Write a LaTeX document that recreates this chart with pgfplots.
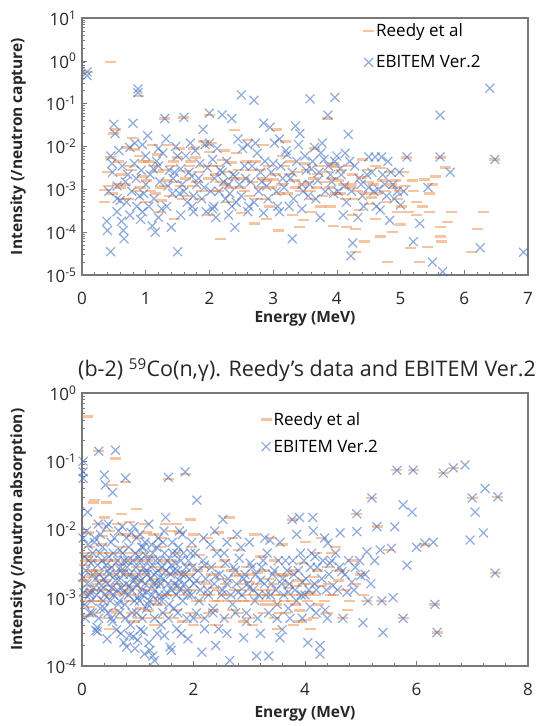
\documentclass[border=0pt]{standalone}
\usepackage{pgfplots}
\pgfplotsset{compat=1.18}
\usepackage{fontspec}
\setmainfont{Open Sans}
\definecolor{reedy}{RGB}{237,125,49}
\definecolor{ebi}{RGB}{68,114,196}
\definecolor{axgray}{RGB}{120,120,120}
\pgfplotsset{
 mybase/.style={
  scale only axis,
  /pgf/number format/assume math mode=true,
  axis line style={axgray, line width=1.2pt},
  tick style={axgray, line width=0.6pt}, tick align=inside, tick pos=left,
  major tick length=5pt, minor tick length=3pt,
  ticklabel style={font=\fontsize{17}{17}\selectfont, text=black!85},
  yticklabel style={xshift=-2pt},
  xticklabel style={yshift=-14pt},
  label style={font=\bfseries\fontsize{15.5}{15.5}\selectfont, text=black!85},
  legend style={draw=none, fill=none, font=\fontsize{17}{20}\selectfont, row sep=13pt, inner sep=0pt},
  legend cell align=left,
 },
 reedymark/.style={only marks, mark=-, mark size=5.5pt, mark options={line width=2.4pt, reedy, opacity=0.45}},
 ebimark/.style={only marks, mark=x, mark size=6.3pt, mark options={line width=1.2pt, ebi, opacity=0.6}},
}
\begin{document}
\begin{tikzpicture}[x=1pt,y=1pt]
\useasboundingbox (0,0) rectangle (545,726);
% ---------------- top panel ----------------
\begin{axis}[mybase, ymode=log, at={(82pt,451pt)}, anchor=south west, width=446pt, height=257pt,
  xmin=0, xmax=7, ymin=1e-5, ymax=10,
  xtick={0,1,...,7}, minor x tick num=4,
  ytick={1e-5,1e-4,1e-3,1e-2,1e-1,1,10},
  yticklabels={10\textsuperscript{-5},10\textsuperscript{-4},10\textsuperscript{-3},10\textsuperscript{-2},10\textsuperscript{-1},10\textsuperscript{0},10\textsuperscript{1}},
  xlabel={Energy (MeV)}, ylabel={Intensity (/neutron capture)},
  xlabel style={at={(axis description cs:0.5,-0.17)}, anchor=center},
  ylabel style={at={(axis description cs:-0.143,0.5)}, anchor=center},
  legend style={at={(0.63,0.985)}, anchor=north west}]
\addplot[reedymark] coordinates {
(0.08,0.55)(0.45,0.95)(0.35,9.5e-4)(0.35,5e-4)(0.45,0.0055)(0.5,0.02)(0.52,0.025)(0.55,0.0013)(0.6,0.0011)(0.65,6e-4)
(0.7,0.0095)(0.75,0.0035)(0.8,0.016)(0.85,0.0009)(0.88,0.15)(0.9,0.006)(0.95,0.002)(1.0,5e-4)(1.05,0.0045)(1.1,0.011)
(1.15,0.0008)(1.2,0.0025)(1.25,5.5e-4)(1.3,0.0012)(1.3,0.045)(1.35,0.011)(1.4,0.0035)(1.45,0.0002)(1.5,0.0055)(1.55,0.0012)
(1.6,0.048)(1.62,0.0027)(1.65,7e-4)(1.7,0.0045)(1.75,0.009)(1.8,0.0015)(1.85,0.0006)(1.9,0.013)(1.95,0.011)(2.0,0.0075)
(2.0,0.055)(2.05,0.0035)(2.1,0.0022)(2.15,0.0009)(2.17,7e-5)(2.2,0.0048)(2.25,0.0013)(2.3,0.0005)(2.35,0.0042)(2.4,0.024)
(2.45,0.0028)(2.5,2.8e-4)(2.55,0.0009)(2.6,0.014)(2.65,0.0028)(2.7,1.6e-4)(2.75,0.0006)(2.8,0.0028)(2.85,0.011)(2.9,0.0016)
(2.95,0.0004)(3.0,0.0017)(3.05,0.025)(3.08,1.1e-4)(3.1,0.0008)(3.15,0.006)(3.2,0.013)(3.25,0.0023)(3.31,2.5e-4)(3.35,0.0011)
(3.42,1.3e-4)(3.47,1.9e-4)(3.5,0.004)(3.55,0.0015)(3.6,6e-4)(3.65,0.009)(3.7,0.0023)(3.75,0.0004)(3.8,0.0015)(3.86,0.045)
(3.9,0.0035)(3.94,1.4e-4)(3.95,0.004)(4.0,0.0033)(4.05,8e-4)(4.1,0.0013)(4.15,1.3e-4)(4.2,0.0011)(4.25,0.0022)(4.3,1.2e-4)
(4.3,3.4e-5)(4.36,3.3e-4)(4.4,0.005)(4.43,6e-5)(4.5,0.0015)(4.55,6.5e-4)(4.6,0.0035)(4.68,0.0031)(4.68,8e-5)(4.75,0.0009)
(4.8,2e-5)(4.83,0.0025)(4.88,1e-4)(4.9,0.0011)(4.95,6e-4)(5.0,1.5e-4)(5.05,0.0025)(5.1,0.0055)(5.15,4.3e-5)(5.2,0.0009)
(5.3,2e-5)(5.38,0.0017)(5.42,4.5e-5)(5.5,0.0013)(5.55,0.002)(5.62,1.3e-4)(5.62,8e-5)(5.65,6e-5)(5.62,0.0055)(5.7,0.0032)
(5.73,1.7e-4)(5.8,3e-4)(6.12,3.4e-5)(6.2,1.2e-4)(6.3,3e-4)(6.48,0.005)
};
\addlegendentry{Reedy et al}
\addplot[ebimark] coordinates {
(0.08,0.55)(0.08,0.45)(0.39,1.8e-4)(0.40,1.1e-4)(0.45,3.5e-5)(0.45,0.006)(0.47,0.004)(0.5,0.033)(0.52,0.02)(0.55,0.0012)
(0.6,5.5e-4)(0.62,1.8e-4)(0.65,1.1e-4)(0.66,7e-5)(0.7,5e-4)(0.75,0.0095)(0.8,0.035)(0.82,0.004)(0.85,0.0018)(0.88,0.22)
(0.88,0.18)(0.9,7e-4)(0.92,2e-4)(0.95,0.011)(1.0,0.006)(1.0,0.0013)(1.05,4e-4)(1.1,1.4e-4)(1.12,0.003)(1.15,1e-4)
(1.2,0.0035)(1.2,0.009)(1.25,3.5e-4)(1.3,0.045)(1.32,0.015)(1.35,0.0012)(1.4,1.3e-4)(1.42,0.0008)(1.45,0.0025)(1.5,3.5e-5)
(1.5,0.006)(1.55,0.003)(1.6,0.048)(1.6,0.0009)(1.65,0.0005)(1.7,0.012)(1.72,0.002)(1.75,0.0007)(1.8,0.0013)(1.85,0.004)
(1.9,0.025)(1.92,0.0011)(1.95,0.0003)(2.0,0.012)(2.0,0.06)(2.05,0.005)(2.08,0.0018)(2.1,2.2e-4)(2.15,0.0009)(2.2,0.055)
(2.2,0.0025)(2.25,0.0006)(2.3,0.0013)(2.35,0.045)(2.35,0.0004)(2.4,0.002)(2.4,1.3e-4)(2.45,0.015)(2.5,0.16)(2.5,0.0007)
(2.55,0.0035)(2.6,0.011)(2.65,0.0015)(2.7,0.12)(2.7,0.0005)(2.75,0.007)(2.8,0.0025)(2.85,0.035)(2.9,0.0012)(2.95,0.028)
(3.0,0.004)(3.05,0.0009)(3.1,0.015)(3.15,0.0018)(3.2,0.008)(3.25,0.0004)(3.3,7e-5)(3.3,0.0025)(3.35,0.03)(3.4,0.011)
(3.45,0.0013)(3.5,0.006)(3.55,0.0007)(3.58,0.13)(3.6,0.003)(3.65,0.0095)(3.7,0.0016)(3.74,2.2e-4)(3.75,0.0071)(3.8,0.005)
(3.86,0.054)(3.9,0.0022)(3.95,0.0008)(3.97,0.14)(4.0,0.006)(4.05,0.003)(4.1,2.5e-4)(4.12,0.0012)(4.15,0.0005)(4.18,0.019)
(4.2,0.0045)(4.22,2.8e-5)(4.25,5.6e-5)(4.33,2.2e-4)(4.35,0.0018)(4.4,0.0007)(4.5,0.0057)(4.5,0.0011)(4.55,0.0025)(4.6,0.0057)
(4.65,0.001)(4.68,3.3e-4)(4.7,0.0057)(4.75,0.0013)(4.8,0.0045)(4.83,1.9e-4)(4.85,0.0025)(4.9,0.0006)(4.95,0.0009)(5.0,4.3e-4)
(5.1,0.0057)(5.2,6e-5)(5.3,1.6e-4)(5.43,0.0011)(5.5,2e-5)(5.62,0.054)(5.62,0.0057)(5.66,1.2e-5)(5.78,0.0025)(6.25,4.3e-5)
(6.4,0.23)(6.48,0.005)(6.93,3.4e-5)
};
\addlegendentry{EBITEM Ver.2}
\addplot[reedymark, forget plot] coordinates {
(0.4,0.0025)(0.42,0.0012)(0.48,0.0008)(0.58,0.0045)(0.62,0.0022)(0.68,0.0013)(0.73,0.0006)(0.78,0.0028)(0.83,0.0085)(0.92,0.0011)
(0.97,0.0045)(1.02,0.0016)(1.08,0.0009)(1.13,0.0035)(1.18,0.0065)(1.23,0.0011)(1.28,0.0028)(1.33,0.0016)(1.38,0.0007)(1.43,0.0045)
(1.48,0.0015)(1.53,0.009)(1.58,0.0006)(1.63,0.0018)(1.68,0.0035)(1.73,0.0012)(1.78,0.0055)(1.83,0.0025)(1.88,0.0009)(1.93,0.0035)
(1.98,0.0018)(2.03,0.012)(2.08,0.0009)(2.13,0.0035)(2.18,0.0015)(2.23,0.008)(2.28,0.0025)(2.33,0.0011)(2.38,0.0018)(2.43,0.007)
(2.48,0.0011)(2.53,0.0018)(2.58,0.0045)(2.63,0.0007)(2.68,0.0015)(2.73,0.0045)(2.78,0.0011)(2.83,0.0018)(2.88,0.0006)(2.93,0.0035)
(2.98,0.0011)(3.03,0.0022)(3.13,0.0013)(3.18,0.0035)(3.23,0.0008)(3.28,0.0045)(3.33,0.0016)(3.38,0.0025)(3.43,0.0009)(3.48,0.0013)
(3.53,0.0028)(3.58,0.0009)(3.63,0.0018)(3.68,0.0011)(3.73,0.0035)(3.78,0.0007)(3.83,0.0025)(3.88,0.0011)(3.93,0.0018)(3.98,0.0008)
(4.03,0.0016)(4.08,0.0028)(4.13,0.0006)(4.18,0.0035)(4.23,0.0013)(4.28,0.0006)(4.33,0.0009)(4.38,0.0019)(4.45,0.0008)(4.48,0.0028)
(4.52,0.00045)(4.58,0.0013)(4.63,0.0008)(4.72,0.0016)(4.78,0.0005)(4.85,0.0013)(4.92,0.0016)(4.98,0.0009)(5.02,0.0004)(5.08,0.0012)
(5.13,0.0003)(5.18,0.0016)(5.25,0.0005)(5.35,0.0004)(5.45,0.0008)
(3.6,3e-4)(3.9,4e-4)(4.25,2.5e-4)(4.6,2e-4)(4.95,3e-4)(5.25,2.5e-4)(5.45,3e-4)(1.2,3e-4)(2.0,2.5e-4)(2.9,2e-4)
};
\addplot[ebimark, forget plot] coordinates {
(0.42,0.0009)(0.48,0.0025)(0.55,0.0006)(0.58,0.008)(0.63,0.0035)(0.68,0.0015)(0.72,0.0022)(0.78,0.0009)(0.83,0.012)(0.86,0.0004)
(0.93,0.0028)(0.97,0.0008)(1.03,0.018)(1.07,0.0022)(1.13,0.0006)(1.17,0.0045)(1.22,0.0015)(1.27,0.007)(1.33,0.0004)(1.37,0.0028)
(1.43,0.0018)(1.47,0.01)(1.53,0.0008)(1.57,0.0013)(1.63,0.006)(1.68,0.0025)(1.73,0.0004)(1.78,0.008)(1.83,0.0018)(1.88,0.0006)
(1.93,0.011)(1.97,0.0032)(2.02,0.0009)(2.07,0.0004)(2.12,0.009)(2.17,0.0028)(2.22,0.0015)(2.27,0.0045)(2.32,0.0008)(2.37,0.0022)
(2.42,0.0005)(2.47,0.0013)(2.52,0.009)(2.57,0.0018)(2.62,0.0004)(2.67,0.0035)(2.72,0.012)(2.77,0.0009)(2.82,0.0015)(2.87,0.0045)
(2.92,0.0006)(2.97,0.0025)(3.02,0.012)(3.07,0.0004)(3.12,0.0035)(3.17,0.0011)(3.22,0.0065)(3.27,0.0018)(3.32,0.0006)(3.37,0.0045)
(3.42,0.02)(3.47,0.0009)(3.52,0.0028)(3.57,0.0013)(3.62,0.0045)(3.67,0.0006)(3.72,0.0025)(3.77,0.012)(3.82,0.0009)(3.87,0.0035)
(3.92,0.0015)(3.97,0.0045)(4.02,0.0009)(4.07,0.0022)(4.13,0.007)(4.23,0.0009)(4.28,0.0035)(4.38,0.0013)(4.42,0.0004)(4.47,0.0022)
(4.58,0.0009)(4.62,0.0004)(4.72,0.0022)(4.78,0.0007)(4.88,0.0013)(4.98,0.0025)(5.05,0.0009)
(0.55,3e-4)(0.75,2.5e-4)(0.95,3e-4)(1.2,2.2e-4)(1.55,2.5e-4)(1.75,3e-4)(2.05,3.5e-4)(2.3,2.5e-4)(2.6,3e-4)(2.85,2.8e-4)(3.1,3e-4)(3.45,3.5e-4)
};
\end{axis}
% ---------------- bottom panel ----------------
\begin{axis}[mybase, ymode=log, at={(82pt,60pt)}, anchor=south west, width=446pt, height=273pt,
  xmin=0, xmax=8, ymin=1e-4, ymax=1,
  xtick={0,2,...,8}, minor x tick num=4,
  ytick={1e-4,1e-3,1e-2,1e-1,1},
  yticklabels={10\textsuperscript{-4},10\textsuperscript{-3},10\textsuperscript{-2},10\textsuperscript{-1},10\textsuperscript{0}},
  xlabel={Energy (MeV)}, ylabel={Intensity (/neutron absorption)},
  xlabel style={at={(axis description cs:0.5,-0.176)}, anchor=center},
  ylabel style={at={(axis description cs:-0.143,0.5)}, anchor=center},
  title={(b-2) \textsuperscript{59}Co(n,γ). Reedy’s data and EBITEM Ver.2},
  title style={font=\fontsize{21.5}{21.5}\selectfont, text=black!85, at={(axis description cs:0.5,1)}, anchor=center, yshift=17pt, xshift=2pt},
  legend style={at={(0.40,0.937)}, anchor=north west, row sep=9pt}]
\addplot[reedymark] coordinates {
(0.1,0.45)(0.05,0.0045)(0.05,0.003)(0.1,0.004)(0.12,0.0012)(0.14,7.3e-4)(0.15,0.0025)(0.2,0.025)(0.23,0.027)(0.3,0.14)
(0.32,0.0018)(0.35,0.006)(0.38,0.0009)(0.41,0.015)(0.44,0.025)(0.45,0.0035)(0.5,0.0015)(0.55,0.045)(0.6,0.11)(0.62,6e-4)
(0.65,0.003)(0.7,0.017)(0.72,0.0012)(0.75,0.0055)(0.78,0.05)(0.8,0.0022)(0.85,0.0009)(0.9,0.008)(0.95,0.0015)(0.98,0.02)
(1.0,0.0035)(1.05,0.0007)(1.1,0.0025)(1.16,0.009)(1.16,5e-4)(1.2,0.0013)(1.25,0.004)(1.3,0.0019)(1.35,0.0008)(1.4,0.0055)
(1.45,0.0025)(1.5,0.012)(1.52,0.0011)(1.55,0.055)(1.6,0.0035)(1.65,0.0016)(1.7,6.6e-4)(1.75,0.009)(1.8,0.0024)(1.85,0.065)
(1.88,0.0013)(1.94,0.014)(1.95,0.003)(2.0,4e-4)(2.05,0.0009)(2.1,0.0042)(2.15,0.0017)(2.2,0.0011)(2.27,6e-4)(2.3,0.0028)
(2.35,0.0014)(2.4,0.005)(2.45,0.0009)(2.5,0.0019)(2.55,0.0035)(2.6,0.0011)(2.65,0.015)(2.7,6.6e-4)(2.75,0.0021)(2.8,0.005)
(2.85,0.0013)(2.9,0.0009)(2.95,0.0028)(3.0,0.0017)(3.05,4e-4)(3.1,0.0011)(3.15,0.0023)(3.2,0.004)(3.25,0.0013)(3.3,0.0008)
(3.35,0.0019)(3.4,0.0013)(3.45,0.0035)(3.5,0.0011)(3.55,0.0006)(3.6,0.0021)(3.7,0.0014)(3.75,0.0009)(3.77,0.014)(3.8,0.0025)
(3.85,0.0015)(3.9,4.5e-4)(3.95,0.0032)(4.0,0.0011)(4.03,4.7e-4)(4.09,0.0012)(4.15,0.002)(4.2,0.0045)(4.25,8e-4)(4.3,0.0015)
(4.4,0.0028)(4.45,0.0011)(4.55,0.0055)(4.6,0.0018)(4.68,5e-4)(4.77,6.6e-4)(4.85,0.0035)(4.93,0.017)(5.0,0.0022)(5.1,0.0009)
(5.2,0.029)(5.3,0.011)(5.38,0.0009)(5.5,0.005)(5.65,0.074)(5.76,5e-4)(5.94,0.074)(6.15,0.006)(6.33,8e-4)(6.37,3.1e-4)
(6.48,0.067)(6.66,0.08)(7.0,0.029)(7.41,0.0023)(7.46,0.03)
};
\addlegendentry{Reedy et al}
\addplot[ebimark] coordinates {
(0.02,0.1)(0.02,0.07)(0.02,0.056)(0.02,0.0075)(0.02,0.002)(0.05,0.004)(0.1,0.018)(0.12,0.0035)(0.15,0.0012)(0.18,0.0006)
(0.2,0.0022)(0.25,3.3e-4)(0.27,3.7e-4)(0.3,0.14)(0.32,0.0045)(0.35,0.0015)(0.38,0.0009)(0.4,0.063)(0.42,0.045)(0.44,0.011)
(0.46,0.0025)(0.5,0.0012)(0.55,0.035)(0.6,0.145)(0.6,0.0018)(0.62,3.4e-4)(0.65,0.0008)(0.68,0.005)(0.7,0.0025)(0.72,0.011)
(0.75,0.0012)(0.78,0.057)(0.8,1.9e-4)(0.82,0.0035)(0.85,0.0015)(0.88,0.009)(0.9,0.0006)(0.92,2.7e-4)(0.95,0.002)(0.98,0.0075)
(1.0,0.001)(1.02,0.004)(1.05,3.4e-4)(1.08,0.0013)(1.1,0.0055)(1.12,1.5e-4)(1.15,0.0025)(1.18,0.0008)(1.22,1.7e-4)(1.25,0.006)
(1.28,0.0016)(1.3,1.2e-4)(1.32,0.0035)(1.35,0.0009)(1.4,0.002)(1.42,4e-4)(1.45,0.0065)(1.5,0.015)(1.52,0.0012)(1.55,0.058)
(1.58,1.9e-4)(1.6,0.003)(1.65,0.0007)(1.7,0.0045)(1.72,0.0015)(1.75,0.0095)(1.78,3e-4)(1.85,0.07)(1.85,0.0022)(1.9,0.0011)
(1.95,0.0045)(2.0,5e-4)(2.06,0.027)(2.05,0.0018)(2.1,0.0009)(2.15,1.6e-4)(2.2,0.003)(2.25,0.0013)(2.3,0.006)(2.35,0.0006)
(2.4,0.0021)(2.45,3.5e-4)(2.5,0.0011)(2.53,0.014)(2.55,0.0045)(2.6,0.0016)(2.65,1.2e-4)(2.7,0.0008)(2.75,0.0025)(2.8,0.0012)
(2.85,0.0055)(2.9,0.0019)(2.95,4.5e-4)(3.0,0.0014)(3.05,0.0028)(3.1,0.0009)(3.13,1.4e-4)(3.2,0.0018)(3.25,0.0035)(3.3,0.0011)
(3.35,1.4e-4)(3.37,0.007)(3.4,0.0016)(3.45,0.0025)(3.5,0.0008)(3.55,2.6e-4)(3.59,3.4e-4)(3.6,0.0019)(3.65,0.0035)(3.7,0.0012)
(3.73,5e-4)(3.77,0.014)(3.8,0.0022)(3.85,0.0009)(3.9,0.015)(3.92,0.0045)(3.95,0.0017)(4.0,0.0011)(4.05,2.2e-4)(4.09,7.3e-4)
(4.1,0.0028)(4.14,0.015)(4.18,0.004)(4.2,0.0013)(4.27,2e-4)(4.27,1.5e-4)(4.3,0.0019)(4.36,6.6e-4)(4.41,0.0063)(4.45,0.0032)
(4.5,0.0015)(4.55,0.0045)(4.63,0.0089)(4.66,0.0024)(4.68,5e-4)(4.75,0.0012)(4.84,0.0017)(4.9,0.0028)(4.93,0.017)(4.93,0.0093)
(5.0,0.0021)(5.04,4.3e-4)(5.11,0.0047)(5.13,0.0009)(5.2,0.029)(5.25,0.0035)(5.29,0.011)(5.35,0.005)(5.38,0.0009)(5.4,3.1e-4)
(5.55,0.0053)(5.58,0.001)(5.61,0.011)(5.65,0.074)(5.76,0.023)(5.76,5e-4)(5.83,0.003)(5.92,0.018)(5.94,0.074)(6.0,0.0055)
(6.15,0.0063)(6.3,0.0065)(6.33,8e-4)(6.37,3.1e-4)(6.48,0.067)(6.66,0.08)(6.87,0.088)(6.96,0.007)(7.0,0.029)(7.05,0.018)
(7.2,0.0089)(7.23,0.04)(7.41,0.0023)(7.46,0.03)
};
\addlegendentry{EBITEM Ver.2}
\addplot[reedymark, forget plot] coordinates {
(0.03,0.0018)(0.04,0.0011)(0.07,0.0009)(0.08,0.0035)(0.09,0.002)(0.11,0.0015)(0.13,0.0055)(0.16,0.0013)(0.17,0.0035)(0.18,0.0022)
(0.21,0.0009)(0.22,0.0045)(0.24,0.0013)(0.26,0.0025)(0.27,0.0016)(0.29,0.0009)(0.31,0.0035)(0.34,0.0022)(0.36,0.0013)(0.39,0.0045)
(0.42,0.0018)(0.46,0.0011)(0.48,0.0028)(0.52,0.0045)(0.53,0.0013)(0.57,0.0022)(0.59,0.0035)(0.63,0.0016)(0.67,0.0011)(0.69,0.0045)
(0.73,0.0025)(0.77,0.0015)(0.79,0.0035)(0.83,0.0013)(0.87,0.0022)(0.89,0.0045)(0.93,0.0011)(0.97,0.0028)(1.02,0.0018)(1.07,0.0013)
(1.08,0.0045)(1.13,0.0022)(1.18,0.0035)(1.23,0.0016)(1.28,0.0009)(1.32,0.0028)(1.37,0.0016)(1.42,0.0011)(1.47,0.0035)(1.57,0.0022)
(1.62,0.0011)(1.67,0.0045)(1.72,0.0013)(1.77,0.0022)(1.83,0.0011)(1.92,0.0022)(1.97,0.0055)(2.02,0.0013)(2.07,0.0025)(2.12,0.0009)
(2.18,0.0028)(2.23,0.0016)(2.28,0.0011)(2.33,0.0022)(2.38,0.0009)(2.43,0.0013)(2.48,0.0028)(2.53,0.0011)(2.58,0.0016)(2.63,0.0009)
(2.68,0.0025)(2.73,0.0013)(2.78,0.0009)(2.83,0.0022)(2.88,0.0016)(2.93,0.0011)(2.98,0.0009)(3.03,0.0022)(3.08,0.0013)(3.13,0.0016)
(3.18,0.0009)(3.23,0.0011)(3.28,0.0025)(3.33,0.0011)(3.38,0.0009)(3.43,0.0016)(3.48,0.0008)(3.53,0.0022)(3.58,0.0011)(3.63,0.0009)
(3.68,0.0016)(3.73,0.0022)(3.78,0.0011)(3.83,0.0008)(3.88,0.0018)(3.93,0.0011)(3.98,0.0016)(4.05,0.0009)(4.12,0.0016)(4.18,0.0011)
(4.22,0.0025)(4.35,0.0009)(4.42,0.0016)(4.48,0.0045)(4.52,0.0011)(4.62,0.0025)(4.7,0.0013)(4.8,0.0009)(4.9,0.0016)(5.05,0.0011)
(0.5,0.00035)(0.95,0.00045)(1.3,0.0004)(1.8,0.00045)(2.4,0.0004)(2.9,0.00045)(3.5,0.00035)(3.8,0.0004)(4.1,0.00035)
(0.12,0.009)(0.27,0.012)(0.37,0.008)(0.5,0.0095)(0.63,0.012)(0.75,0.0085)(0.85,0.013)(1.0,0.0075)(1.12,0.012)(1.28,0.0085)
(1.42,0.0075)(1.6,0.0095)(1.7,0.012)(2.0,0.0085)(2.25,0.0075)(2.45,0.009)(2.7,0.0075)(3.1,0.0085)(3.4,0.0075)(3.6,0.006)
(4.0,0.0065)(4.3,0.0075)
(0.1,0.00055)(0.25,0.0006)(0.42,0.0005)(0.58,0.00065)(0.72,0.0005)(0.88,0.0006)(1.02,0.0005)(1.2,0.00065)(1.38,0.0005)(1.5,0.0006)
(1.65,0.0005)(1.95,0.0006)(2.1,0.0005)(2.35,0.00065)(2.6,0.0005)(2.8,0.0006)(3.0,0.0005)(3.25,0.0006)(3.45,0.0005)(3.65,0.0006)
(3.9,0.00065)(4.15,0.0005)(4.4,0.0006)
};
\addplot[ebimark, forget plot] coordinates {
(0.03,0.0012)(0.05,0.0008)(0.07,0.0025)(0.09,0.0016)(0.11,0.006)(0.13,0.0011)(0.16,0.0032)(0.17,0.0009)(0.19,0.0045)(0.21,0.0014)
(0.23,0.0075)(0.24,0.0019)(0.26,0.0011)(0.28,0.003)(0.29,0.012)(0.31,0.0022)(0.33,0.0007)(0.34,0.0013)(0.36,0.0035)(0.37,0.0055)
(0.39,0.0019)(0.41,0.0011)(0.43,0.003)(0.45,0.0016)(0.47,0.0006)(0.48,0.004)(0.49,0.0022)(0.51,0.0009)(0.53,0.0028)(0.54,0.0014)
(0.56,0.0045)(0.57,0.0011)(0.58,0.0075)(0.61,0.0022)(0.63,0.0013)(0.64,0.0035)(0.66,0.0018)(0.67,0.0009)(0.69,0.0028)(0.71,0.0014)
(0.73,0.0045)(0.74,0.0022)(0.76,0.0035)(0.77,0.0008)(0.79,0.0016)(0.81,0.0028)(0.83,0.0011)(0.84,0.0055)(0.86,0.0022)(0.87,0.0004)
(0.89,0.0013)(0.91,0.0035)(0.93,0.0018)(0.94,0.0009)(0.96,0.0045)(0.97,0.0028)(0.99,0.0015)(1.01,0.0022)(1.03,0.0009)(1.04,0.0035)
(1.06,0.0018)(1.07,0.0055)(1.09,0.0011)(1.11,0.0028)(1.13,0.0016)(1.14,0.0042)(1.16,0.0012)(1.17,0.0022)(1.19,0.0035)(1.21,0.0009)
(1.23,0.0019)(1.24,0.0028)(1.26,0.0011)(1.27,0.0045)(1.29,0.0022)(1.31,0.0013)(1.33,0.0016)(1.34,0.0055)(1.36,0.0025)(1.38,0.0011)
(1.39,0.0035)(1.41,0.0016)(1.43,0.0009)(1.44,0.0028)(1.46,0.0019)(1.48,0.0045)(1.49,0.0011)(1.51,0.0025)(1.53,0.0035)(1.54,0.0016)
(1.56,0.0008)(1.59,0.0022)(1.61,0.0013)(1.63,0.0045)(1.64,0.0025)(1.66,0.0016)(1.68,0.0032)(1.69,0.0011)(1.71,0.0025)(1.73,0.0055)
(1.74,0.0018)(1.76,0.0013)(1.77,0.0035)(1.79,0.0022)(1.81,0.0009)(1.82,0.0045)(1.84,0.0016)(1.87,0.0028)(1.89,0.0013)(1.91,0.0035)
(1.93,0.0019)(1.96,0.0011)(1.98,0.0028)(2.01,0.0016)(2.03,0.0045)(2.08,0.0025)(2.12,0.0013)(2.17,0.0035)(2.22,0.0019)(2.27,0.0011)
(2.32,0.0028)(2.37,0.0016)(2.42,0.0045)(2.47,0.0022)(2.52,0.0013)(2.57,0.0032)(2.62,0.0019)(2.67,0.0011)(2.72,0.0028)(2.77,0.0016)
(2.82,0.0038)(2.87,0.0011)(2.92,0.0022)(2.97,0.0016)(3.02,0.0032)(3.07,0.0013)(3.12,0.0022)(3.17,0.0011)(3.22,0.0028)(3.27,0.0016)
(3.32,0.0045)(3.38,0.0011)(3.42,0.0022)(3.48,0.0013)(3.52,0.0035)(3.58,0.0016)(3.62,0.0011)(3.68,0.0025)(3.72,0.0016)(3.78,0.0035)
(3.82,0.0013)(3.88,0.0025)(3.93,0.0011)(3.98,0.0035)(4.02,0.0019)(4.07,0.0013)(4.12,0.0045)(4.17,0.0016)(4.22,0.0028)(4.32,0.0035)
(4.38,0.0013)(4.43,0.0022)(4.48,0.0035)(4.58,0.0013)(4.62,0.0028)(4.72,0.0022)(4.78,0.0035)(4.88,0.0013)(4.98,0.0035)(5.08,0.0022)
(5.18,0.0016)
(0.28,0.00032)(0.45,0.00025)(0.55,0.00045)(0.7,0.0003)(0.75,0.00022)(0.85,0.00028)(0.95,0.00018)(1.0,0.00024)(1.1,0.00032)(1.2,0.00022)
(1.27,0.00014)(1.35,0.0003)(1.48,0.00028)(1.6,0.00017)(1.7,0.00035)(1.9,0.00025)(2.2,0.00035)(2.4,0.0002)(2.6,0.0003)(2.9,0.00026)
(3.2,0.0003)
(0.08,0.0095)(0.22,0.0065)(0.33,0.0085)(0.47,0.012)(0.52,0.0065)(0.66,0.0095)(0.8,0.0075)(0.93,0.011)(1.04,0.0085)(1.13,0.0065)
(1.2,0.012)(1.37,0.0075)(1.47,0.0095)(1.62,0.0065)(1.8,0.0085)(1.97,0.0065)(2.18,0.0075)(2.38,0.0095)(2.6,0.0065)(2.78,0.0085)
(3.0,0.0065)(3.28,0.0075)(3.55,0.0065)(3.85,0.0085)(4.15,0.0095)(4.35,0.0075)
(0.06,0.0005)(0.14,0.0006)(0.3,0.0005)(0.4,0.0007)(0.53,0.0005)(0.68,0.0006)(0.78,0.0005)(0.98,0.0006)(1.08,0.0005)(1.16,0.0007)
(1.3,0.0005)(1.45,0.0006)(1.55,0.0005)(1.72,0.0006)(1.88,0.0005)(2.05,0.0006)(2.2,0.0005)(2.35,0.0007)(2.55,0.0005)(2.75,0.0006)
(2.95,0.0006)(3.15,0.0005)(3.35,0.0006)(3.5,0.0005)(3.7,0.0007)(3.95,0.0005)(4.2,0.0006)(4.4,0.0005)
};
\end{axis}
\end{tikzpicture}
\end{document}
